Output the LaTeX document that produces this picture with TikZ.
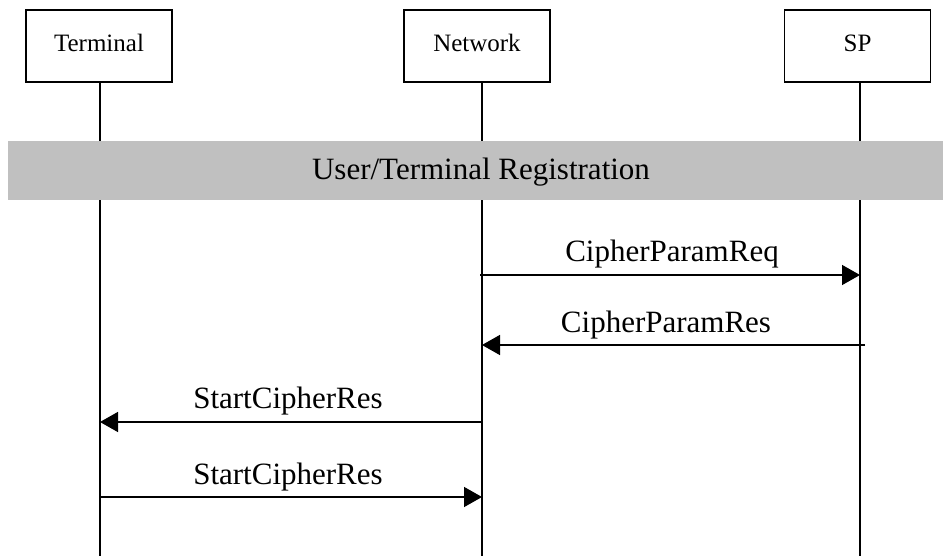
\documentclass[tikz,border=0pt]{standalone}
\usepackage{fontspec}
\setmainfont{Liberation Serif}
\usetikzlibrary{arrows.meta}
\definecolor{bandgray}{HTML}{C0C0C0}
\begin{document}
\begin{tikzpicture}[x=0.75pt,y=-0.75pt,
  actor/.style={draw,line width=1.4pt,minimum width=109.5pt,minimum height=54pt,inner sep=0pt,
    font=\fontsize{18.75}{22}\selectfont,text height=12.75pt,text depth=3.75pt},
  life/.style={line width=1.4pt},
  band/.style={fill=bandgray,draw=none,minimum width=701.25pt,minimum height=44.25pt,inner sep=0pt},
  bandtext/.style={anchor=base,inner sep=0pt,font=\fontsize{23.25}{27}\selectfont},
  lbl/.style={anchor=base,inner sep=0pt,font=\fontsize{23.25}{27}\selectfont},
  msg/.style={line width=1.1pt,-{Triangle[length=13.5pt,width=15pt]}}]
\useasboundingbox (0,0) rectangle (943,556);
% actors
\node[actor] (term) at (99,46) {Terminal};
\node[actor] (net) at (477,46) {Network};
\node[actor] (sp) at (857.5,46) {SP};
% lifelines
\coordinate (termtop) at (100,82);
\coordinate (termbot) at (100,556);
\coordinate (nettop) at (482,82);
\coordinate (netbot) at (482,556);
\coordinate (sptop) at (860,82);
\coordinate (spbot) at (860,556);
\draw[life] (termtop) -- (termbot);
\draw[life] (nettop) -- (netbot);
\draw[life] (sptop) -- (spbot);
% band
\node[band] (reg) at (475.5,170.5) {};
\node[bandtext] (regtext) at (481,180) {User/Terminal Registration};
% messages
\coordinate (n1) at (480,275);
\coordinate (s1) at (860,275);
\draw[msg] (n1) -- (s1);
\node[lbl] (l1) at (672,262) {CipherParamReq};
\coordinate (s2) at (865,345);
\coordinate (n2) at (482,345);
\draw[msg] (s2) -- (n2);
\node[lbl] (l2) at (666,332) {CipherParamRes};
\coordinate (n3) at (482,422);
\coordinate (t3) at (100,422);
\draw[msg] (n3) -- (t3);
\node[lbl] (l3) at (288,408) {StartCipherRes};
\coordinate (t4) at (100,497);
\coordinate (n4) at (482,497);
\draw[msg] (t4) -- (n4);
\node[lbl] (l4) at (288,484) {StartCipherRes};
\end{tikzpicture}
\end{document}
